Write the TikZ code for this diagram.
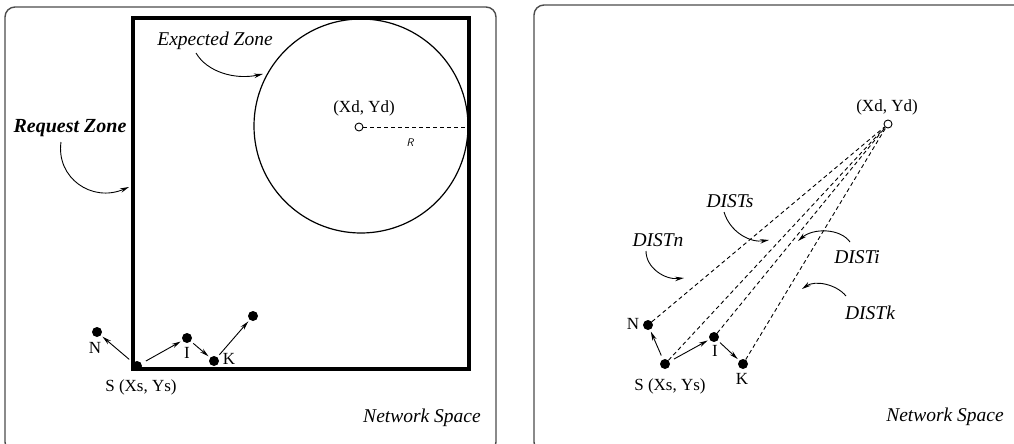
\documentclass[tikz,border=0pt]{standalone}
\usepackage{fontspec}
\setmainfont{Liberation Serif}
\usetikzlibrary{arrows.meta}

\begin{document}
\begin{tikzpicture}[x=1pt,y=-1pt,
  panel/.style={draw=black!70, line width=1.4pt, rounded corners=10pt},
  dot/.style={circle, fill=black, inner sep=0pt, minimum size=10pt},
  hole/.style={circle, draw, fill=white, inner sep=0pt, minimum size=8pt, line width=0.9pt},
  lbl/.style={font=\fontsize{17}{19}\selectfont, inner sep=0pt},
  tag/.style={font=\fontsize{19.5}{22}\selectfont\itshape, inner sep=0pt},
  hop/.style={-{Stealth[length=9pt,width=4.5pt]}, line width=0.9pt, shorten <=5pt, shorten >=2pt},
  pointer/.style={-{Stealth[length=9pt,width=4.5pt]}, line width=0.9pt},
  ray/.style={dash pattern=on 4pt off 3pt, line width=0.9pt}]

\useasboundingbox (0,0) rectangle (1014,444);

% ---------- left panel: request zone ----------
\draw[panel] (5,7) rectangle (496,452);
\draw[line width=3.2pt] (133,18) rectangle (469,369);
\draw[line width=1.2pt] (361,126) circle[radius=107];

\node[hole] (dl) at (359,127) {};
\coordinate (rend) at (469,127);
\draw[ray] (dl) -- (rend);
\node[font=\sffamily\itshape\fontsize{11}{12}\selectfont, inner sep=0pt] (rlbl) at (410,143) {R};
\node[lbl] (dltxt) at (364,108) {(Xd, Yd)};

\node[tag] (exp) at (215,41) {Expected Zone};
\coordinate (expend) at (263,74);
\draw[pointer] (196,53) .. controls (207,72) and (235,80) .. (expend);

\node[tag, font=\fontsize{20}{22}\selectfont\bfseries\itshape] (req) at (70,128) {Request Zone};
\coordinate (reqend) at (129,187);
\draw[pointer] (61,142) .. controls (56,178) and (92,203) .. (reqend);

\node[dot] (sl) at (137,366) {};
\node[dot] (nl) at (97,332) {};
\node[dot] (il) at (187,338) {};
\node[dot] (kl) at (214,361) {};
\node[dot] (xl) at (253,316) {};
\draw[hop] (sl) -- (nl);
\draw[hop] (sl) -- (il);
\draw[hop, shorten <=3pt] (il) -- (kl);
\draw[hop, shorten <=3pt] (kl) -- (xl);

\node[lbl] (nltxt) at (95,348) {N};
\node[lbl] (iltxt) at (187,353) {I};
\node[lbl] (kltxt) at (229,359) {K};
\node[lbl] (sltxt) at (141,387) {S (Xs, Ys)};

\node[tag] (netl) at (422,418) {Network Space};

% ---------- right panel: distances ----------
\draw[panel] (534,5) rectangle (1040,452);

\node[hole] (dr) at (888,124) {};
\node[lbl] (drtxt) at (887,107) {(Xd, Yd)};

\node[dot] (sr) at (665,364) {};
\node[dot] (nr) at (648,325) {};
\node[dot] (ir) at (714,337) {};
\node[dot] (kr) at (743,364) {};

\draw[ray] (nr) -- (dr);
\draw[ray] (sr) -- (dr);
\draw[ray] (ir) -- (dr);
\draw[ray] (kr) -- (dr);

\draw[hop, shorten <=4pt] (sr) -- (nr);
\draw[hop] (sr) -- (ir);
\draw[hop, shorten <=3pt] (ir) -- (kr);

\node[lbl] (nrtxt) at (633,324) {N};
\node[lbl] (irtxt) at (715,351) {I};
\node[lbl] (krtxt) at (742,379) {K};
\node[lbl] (srtxt) at (670,386) {S (Xs, Ys)};

\node[tag] (dists) at (730,201) {DISTs};
\coordinate (distsend) at (769,240);
\draw[pointer] (724,212) .. controls (730,232) and (750,243) .. (distsend);

\node[tag] (distn) at (658,240) {DISTn};
\coordinate (distnend) at (684,278);
\draw[pointer] (646,251) .. controls (646,268) and (665,280) .. (distnend);

\node[tag] (disti) at (857,257) {DISTi};
\coordinate (distiend) at (798,241);
\draw[pointer] (850,242) .. controls (840,228) and (813,228) .. (distiend);

\node[tag] (distk) at (870,313) {DISTk};
\coordinate (distkend) at (802,289);
\draw[pointer] (846,296) .. controls (836,284) and (815,280) .. (distkend);

\node[tag] (netr) at (945,417) {Network Space};
\end{tikzpicture}
\end{document}
